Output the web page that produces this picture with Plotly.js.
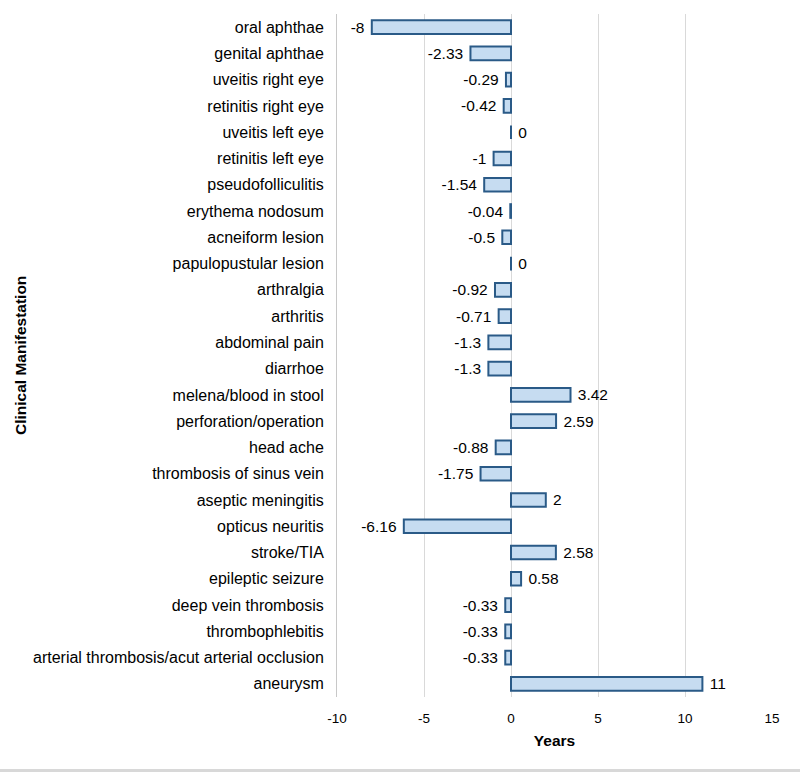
<!DOCTYPE html>
<html><head><meta charset="utf-8">
<script src="https://cdn.plot.ly/plotly-3.0.1.min.js"></script>
<style>html,body{margin:0;padding:0;background:#fff}#c{width:800px;height:769px;border-bottom:3px solid #d8d8d8}</style>
</head><body><div id="c"></div>
<script>
const categories = ["oral aphthae","genital aphthae","uveitis right eye","retinitis right eye","uveitis left eye","retinitis left eye","pseudofolliculitis","erythema nodosum","acneiform lesion","papulopustular lesion","arthralgia","arthritis","abdominal pain","diarrhoe","melena/blood in stool","perforation/operation","head ache","thrombosis of sinus vein","aseptic meningitis","opticus neuritis","stroke/TIA","epileptic seizure","deep vein thrombosis","thrombophlebitis","arterial thrombosis/acut arterial occlusion","aneurysm"];
const years = [-8,-2.33,-0.29,-0.42,0,-1,-1.54,-0.04,-0.5,0,-0.92,-0.71,-1.3,-1.3,3.42,2.59,-0.88,-1.75,2,-6.16,2.58,0.58,-0.33,-0.33,-0.33,11];
const xTicks = [-10,-5,0,5,10,15];

const font = "Liberation Sans, Arial, sans-serif";
const pad = "\u00a0";
const labels = years.map(v => v < 0 ? String(v) + pad : pad + String(v));
Plotly.newPlot('c', [{
  type: 'bar', orientation: 'h', y: categories, x: years,
  text: labels, textposition: 'outside', cliponaxis: false, constraintext: 'none',
  textfont: {family: font, size: 15.5, color: '#000'},
  width: 0.52,
  marker: {color: '#c6dcf1', line: {color: '#2a5a87', width: 2}},
  hoverinfo: 'x+y'
}], {
  width: 800, height: 769,
  margin: {l: 337, r: 28, t: 14, b: 72},
  paper_bgcolor: '#fff', plot_bgcolor: '#fff',
  showlegend: false,
  xaxis: {range: [-10, 15], tickvals: xTicks, ticktext: xTicks.map(String),
    showgrid: true, gridcolor: '#d9d9d9', zeroline: true, zerolinecolor: '#d9d9d9', zerolinewidth: 1,
    tickfont: {family: font, size: 13.5, color: '#000'}, ticks: '', ticklen: 0, ticklabelstandoff: 11,
    title: {text: '<b>Years</b>', font: {family: font, size: 15.5, color: '#000'}, standoff: 10}},
  yaxis: {autorange: 'reversed', showgrid: false, showline: true, linecolor: '#c8c8c8', linewidth: 1,
    tickfont: {family: font, size: 16, color: '#000'}, ticks: '', ticklabelstandoff: 9},
  annotations: [{text: '<b>Clinical Manifestation</b>', xref: 'paper', yref: 'paper',
    x: (20 - 337) / 435, y: (697 - 356) / 683, textangle: -90, showarrow: false,
    font: {family: font, size: 15.5, color: '#000'}, xanchor: 'center', yanchor: 'middle'}]
}, {displayModeBar: false, staticPlot: true});
</script></body></html>
